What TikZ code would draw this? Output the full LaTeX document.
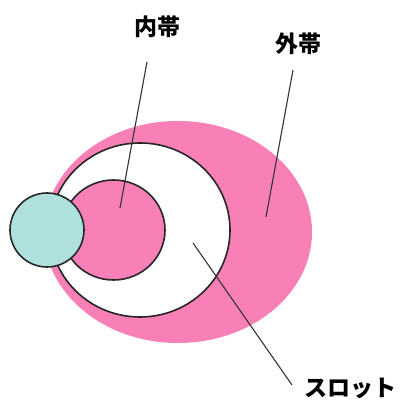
\documentclass[tikz,border=0pt]{standalone}
\usepackage{fontspec}
\newfontfamily\cjk{Noto Sans CJK JP}
\usetikzlibrary{shapes.geometric}
\definecolor{rosa}{RGB}{249,128,182}
\definecolor{aqua}{RGB}{174,224,221}
\tikzset{
  zone/.style={ellipse, inner sep=0pt, outer sep=0pt},
  rim/.style={draw=black!85, line width=1.6pt},
  lbl/.style={font=\cjk\bfseries\fontsize{23}{23}\selectfont, inner sep=0pt},
  leader/.style={draw=black!80, line width=1.1pt}
}
\begin{document}
\begin{tikzpicture}[x=1pt,y=1pt]
\useasboundingbox (0,0) rectangle (400,403);
\fill[white] (0,0) rectangle (400,403);
\node[zone, fill=rosa, minimum width=268pt, minimum height=222pt] (outer) at (178,171) {};
\node[zone, rim, fill=white, minimum width=180pt, minimum height=174pt] (slot) at (140,173) {};
\node[zone, rim, fill=rosa, minimum width=103pt, minimum height=100pt] (inner) at (113.5,173) {};
\node[circle, rim, fill=aqua, minimum size=74pt, inner sep=0pt] (core) at (47,173) {};
\node[lbl] (lin) at (157,376) {内帯};
\node[lbl] (lout) at (298,359) {外帯};
\node[lbl] (lslot) at (350,15) {スロット};
\coordinate (a1) at (147,341); \coordinate (a2) at (120,195);
\coordinate (b1) at (293,333); \coordinate (b2) at (266,186);
\coordinate (c1) at (292,18);  \coordinate (c2) at (193,160);
\draw[leader] (a1) -- (a2);
\draw[leader] (b1) -- (b2);
\draw[leader] (c1) -- (c2);
\end{tikzpicture}
\end{document}
